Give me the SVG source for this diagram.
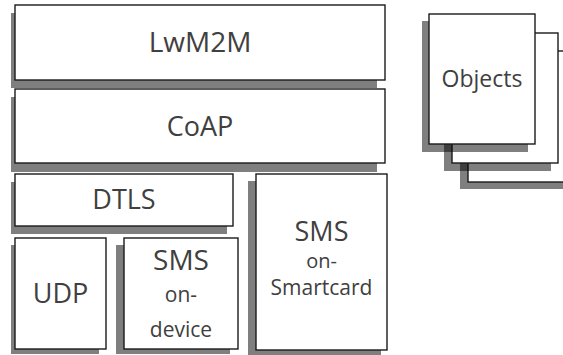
<svg xmlns="http://www.w3.org/2000/svg" width="563" height="355" viewBox="0 0 563 355">
<style>
.box{fill:#fff;stroke:#1a1a1a;stroke-width:1.4}
.sh{fill:#000;opacity:0.5}
.t{font-family:"Open Sans","Liberation Sans",sans-serif;fill:#404040;text-anchor:middle}
.big{font-size:27px}
.small{font-size:21px}
</style>
<rect width="563" height="355" fill="#fff"/>
<g id="objects">
  <rect class="sh" x="460" y="58" width="120" height="131"/>
  <rect class="box" x="468" y="51" width="120" height="131"/>
  <rect class="sh" x="444" y="40" width="107" height="131"/>
  <rect class="box" x="452" y="33" width="106" height="130"/>
  <rect class="sh" x="422" y="21" width="106" height="131"/>
  <rect class="box" x="429" y="14" width="106" height="130"/>
  <text class="t" x="482" y="87" style="font-size:23px">Objects</text>
</g>
<g id="lwm2m">
  <rect class="sh" x="11" y="13" width="366" height="75"/>
  <rect class="box" x="15" y="5" width="370" height="75"/>
  <text class="t big" x="200" y="52" style="font-size:28px">LwM2M</text>
</g>
<g id="coap">
  <rect class="sh" x="11" y="97" width="366" height="75"/>
  <rect class="box" x="15" y="89" width="370" height="74"/>
  <text class="t big" x="200" y="136">CoAP</text>
</g>
<g id="dtls">
  <rect class="sh" x="11" y="182" width="216" height="52"/>
  <rect class="box" x="15" y="174" width="218" height="52"/>
  <text class="t big" x="124" y="209">DTLS</text>
</g>
<g id="udp">
  <rect class="sh" x="11" y="245" width="88" height="109"/>
  <rect class="box" x="15" y="238" width="91" height="111"/>
  <text class="t big" x="60.5" y="303">UDP</text>
</g>
<g id="sms-device">
  <rect class="sh" x="116" y="245" width="114" height="109"/>
  <rect class="box" x="124" y="238" width="114" height="111"/>
  <text class="t" x="181" y="270" style="font-size:28px">SMS</text>
  <text class="t small" x="181" y="302">on-</text>
  <text class="t small" x="181" y="337">device</text>
</g>
<g id="sms-smartcard">
  <rect class="sh" x="248" y="181" width="133" height="176"/>
  <rect class="box" x="256" y="174" width="131" height="176"/>
  <text class="t" x="321.5" y="241" style="font-size:27px">SMS</text>
  <text class="t small" x="321.5" y="268" style="font-size:20px">on-</text>
  <text class="t small" x="321.5" y="295">Smartcard</text>
</g>
</svg>
